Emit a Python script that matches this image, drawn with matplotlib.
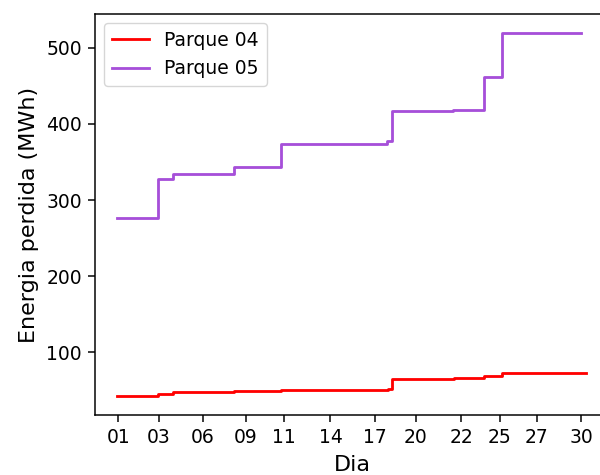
import matplotlib
matplotlib.use("Agg")
import matplotlib.pyplot as plt

# Step change points (day position, cumulative lost energy in MWh)
dias_04 = [0.9, 3.5, 4.45, 8.27, 11.2, 17.88, 18.17, 22.0, 23.9, 25.05, 30.31]
energia_04 = [42.3, 46.0, 48.0, 49.4, 50.7, 52.2, 65.5, 66.8, 69.8, 73.5, 73.5]

dias_05 = [0.9, 3.5, 4.4, 8.24, 11.18, 17.86, 18.17, 21.94, 23.92, 25.05, 30.0]
energia_05 = [276.5, 327.0, 334.0, 343.5, 373.0, 378.0, 416.5, 418.0, 461.0, 518.5, 518.5]

# x-axis tick labels (day of month) and where they sit on the axis
tick_pos = [1.0, 3.55, 6.28, 8.97, 11.39, 14.29, 17.1, 19.62, 22.48, 24.88, 27.21, 30.0]
tick_labels = ['01', '03', '06', '09', '11', '14', '17', '20', '22', '25', '27', '30']

# the reference looks like an upscaled notebook figure, so everything is ~1.35x
k = 1.35
plt.rcParams.update({
    'font.size': 10 * k,
    'axes.linewidth': 0.8 * k,
    'xtick.major.size': 3.5 * k,
    'ytick.major.size': 3.5 * k,
    'xtick.major.width': 0.8 * k,
    'ytick.major.width': 0.8 * k,
    'xtick.major.pad': 3.5 * k,
    'ytick.major.pad': 3.5 * k,
    'axes.labelpad': 4 * k,
})

fig = plt.figure(figsize=(6, 4.75), dpi=100)
ax = fig.add_axes([95 / 600, 1 - 415 / 475, 515 / 600, 401 / 475])

ax.plot(dias_04, energia_04, drawstyle='steps-post', color='red', lw=1.5 * k, label='Parque 04')
ax.plot(dias_05, energia_05, drawstyle='steps-post', color='#a64fd9', lw=1.5 * k, label='Parque 05')

ax.set_xlim(-0.46, 31.8)
ax.set_ylim(18, 544)
ax.set_xticks(tick_pos)
ax.set_xticklabels(tick_labels)
ax.set_yticks([100, 200, 300, 400, 500])

ax.set_xlabel('Dia', fontsize=16)
ax.set_ylabel('Energia perdida (MWh)', fontsize=16)
ax.legend(loc='upper left')

fig.savefig('out.png', dpi=100)
